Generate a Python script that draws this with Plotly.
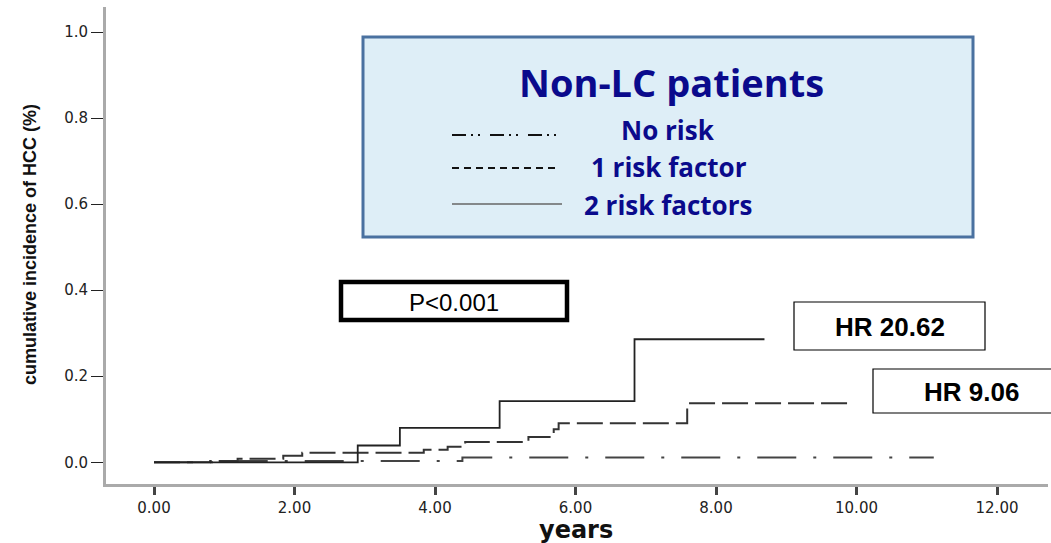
import plotly.graph_objects as go

# ---- data ----
t_none = [0, 1.05, 4.39, 11.10]
ci_none = [0, 0.003, 0.011, 0.011]

t_one = [0, 0.80, 1.19, 1.84, 2.11, 3.84, 4.18, 4.43, 5.33, 5.69, 5.76, 7.59, 9.93]
ci_one = [0, 0.003, 0.008, 0.015, 0.022, 0.029, 0.036, 0.047, 0.059, 0.077, 0.091, 0.137, 0.137]

t_two = [0, 2.90, 3.50, 4.92, 6.84, 8.69]
ci_two = [0, 0.039, 0.080, 0.142, 0.286, 0.286]

x_ticks = [0, 2, 4, 6, 8, 10, 12]
x_ticktext = ["0.00", "2.00", "4.00", "6.00", "8.00", "10.00", "12.00"]
y_ticks = [0, 0.2, 0.4, 0.6, 0.8, 1.0]
y_ticktext = ["0.0", "0.2", "0.4", "0.6", "0.8", "1.0"]

x_title = "years"
y_title = "cumulative incidence of HCC (%)"
legend_labels = ["No risk", "1 risk factor", "2 risk factors"]
legend_title = "Non-LC patients"
p_text = "P<0.001"
hr_two = "HR 20.62"
hr_one = "HR 9.06"

# ---- layout geometry (pixels) ----
W, H = 1051, 543
L, R, T, B = 106, 3, 7, 59
PW = W - L - R
PH = H - T - B


def px(x):
    return (x - L) / PW


def py(y):
    return (H - B - y) / PH


fig = go.Figure()
fig.add_trace(go.Scatter(x=t_none, y=ci_none, mode="lines", line_shape="hv",
                         name=legend_labels[0],
                         line=dict(color="#444444", width=2, dash="39px,17px,3px,17px")))
fig.add_trace(go.Scatter(x=t_one, y=ci_one, mode="lines", line_shape="hv",
                         name=legend_labels[1],
                         line=dict(color="#333333", width=2, dash="26px,7px")))
fig.add_trace(go.Scatter(x=t_two, y=ci_two, mode="lines", line_shape="hv",
                         name=legend_labels[2],
                         line=dict(color="#222222", width=1.8)))

shapes = []
annotations = []

# axis titles
annotations.append(dict(xref="paper", yref="paper", x=px(30), y=py(245),
                        text="<b>%s</b>" % y_title, showarrow=False, textangle=-90,
                        xanchor="center", yanchor="middle",
                        font=dict(family="Liberation Sans Narrow, Liberation Sans", size=18,
                                  color="#111111")))
annotations.append(dict(xref="paper", yref="paper", x=px(576), y=py(530),
                        text="<b>%s</b>" % x_title, showarrow=False,
                        xanchor="center", yanchor="middle",
                        font=dict(family="DejaVu Sans", size=24, color="#111111")))

# legend box
shapes.append(dict(type="rect", xref="paper", yref="paper",
                   x0=px(363), x1=px(973), y0=py(237), y1=py(37),
                   fillcolor="#deeef7", line=dict(color="#4a71a0", width=3), layer="above"))
annotations.append(dict(xref="paper", yref="paper", x=px(671), y=py(82),
                        text="<b>%s</b>" % legend_title, showarrow=False,
                        xanchor="center", yanchor="middle",
                        font=dict(family="Open Sans", size=38, color="#0a0a8c")))
rows_y = [130, 167, 205]
rows_x = [668, 669, 668]
dashes = ["14px,5px,2px,5px,2px,10px", "7px,5px", "solid"]
samp_y = [135, 168, 204]
samp_x1 = [558, 557, 562]
samp_col = ["#111111", "#111111", "#666666"]
for lab, yy, xx, d, sy, sx1, c in zip(legend_labels, rows_y, rows_x, dashes, samp_y, samp_x1, samp_col):
    annotations.append(dict(xref="paper", yref="paper", x=px(xx), y=py(yy),
                            text="<b>%s</b>" % lab, showarrow=False,
                            xanchor="center", yanchor="middle",
                            font=dict(family="Open Sans", size=26, color="#0a0a8c")))
    shapes.append(dict(type="line", xref="paper", yref="paper",
                       x0=px(452), x1=px(sx1), y0=py(sy), y1=py(sy),
                       line=dict(color=c, width=2 if d != "solid" else 1.5, dash=d), layer="above"))

# P value box
shapes.append(dict(type="rect", xref="paper", yref="paper",
                   x0=px(341), x1=px(567), y0=py(320), y1=py(282),
                   fillcolor="white", line=dict(color="black", width=4.5), layer="above"))
annotations.append(dict(xref="paper", yref="paper", x=px(454), y=py(302),
                        text=p_text, showarrow=False, xanchor="center", yanchor="middle",
                        font=dict(family="Liberation Sans", size=24, color="black")))

# HR boxes
shapes.append(dict(type="rect", xref="paper", yref="paper",
                   x0=px(794), x1=px(985), y0=py(350), y1=py(302),
                   fillcolor="white", line=dict(color="black", width=1.2), layer="above"))
annotations.append(dict(xref="paper", yref="paper", x=px(890), y=py(327),
                        text="<b>%s</b>" % hr_two, showarrow=False, xanchor="center", yanchor="middle",
                        font=dict(family="Liberation Sans", size=26, color="black")))
shapes.append(dict(type="rect", xref="paper", yref="paper",
                   x0=px(873), x1=px(1052), y0=py(413), y1=py(369),
                   fillcolor="white", line=dict(color="black", width=1.2), layer="above"))
annotations.append(dict(xref="paper", yref="paper", x=px(971), y=py(392),
                        text="<b>%s</b>" % hr_one, showarrow=False, xanchor="center", yanchor="middle",
                        font=dict(family="Liberation Sans", size=26, color="black")))

x0 = 154.0
ppx = 70.25
y0p = 462.3
ppy = 430.3

fig.update_layout(
    width=W, height=H,
    margin=dict(l=L, r=R, t=T, b=B, autoexpand=False),
    paper_bgcolor="white", plot_bgcolor="white",
    showlegend=False,
    shapes=shapes, annotations=annotations,
    xaxis=dict(range=[(L - x0) / ppx, (W - R - x0) / ppx], automargin=False,
               tickmode="array", tickvals=x_ticks, ticktext=x_ticktext,
               showgrid=False, zeroline=False,
               showline=True, linecolor="#aaaaaa", linewidth=2.5,
               ticks="outside", ticklen=8, tickwidth=3, tickcolor="#444444",
               tickfont=dict(family="DejaVu Sans", size=15, color="#222222")),
    yaxis=dict(range=[(y0p - (H - B)) / ppy, (y0p - T) / ppy], automargin=False,
               tickmode="array", tickvals=y_ticks, ticktext=y_ticktext,
               showgrid=False, zeroline=False,
               showline=True, linecolor="#aaaaaa", linewidth=3,
               ticks="outside", ticklen=12, tickwidth=1, tickcolor="#222222",
               tickfont=dict(family="DejaVu Sans", size=15, color="#222222")),
)

fig.write_html("out.html", config={"displayModeBar": False},
               post_script="document.body.style.margin='0';document.body.style.overflow='hidden';")
